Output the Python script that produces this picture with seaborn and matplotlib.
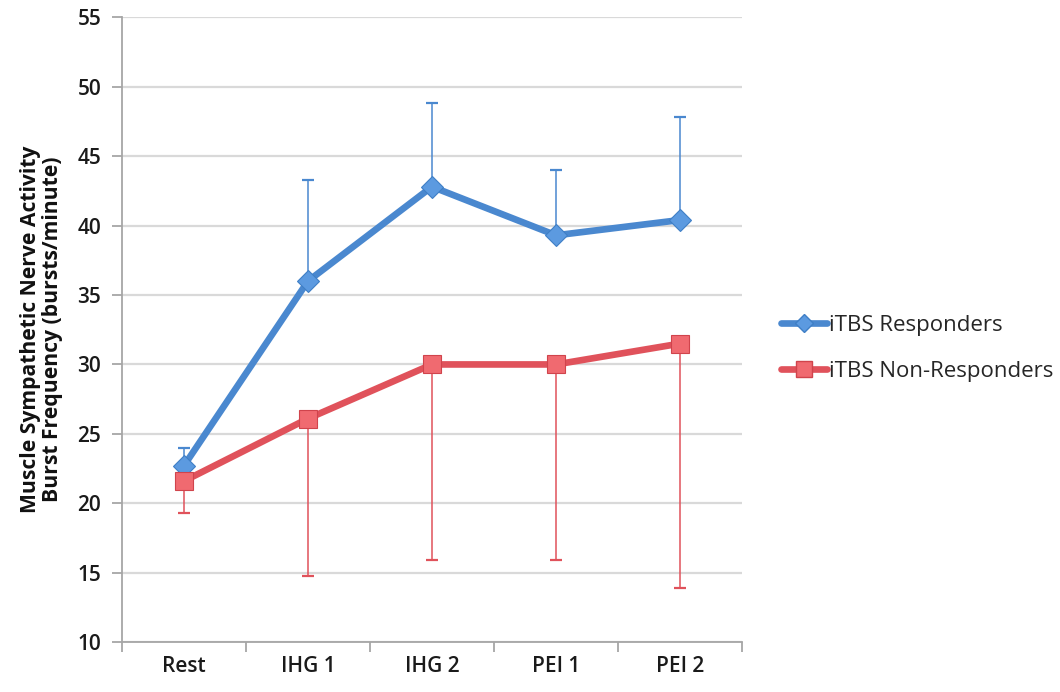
import numpy as np
import pandas as pd
import matplotlib
matplotlib.use("Agg")
import matplotlib.pyplot as plt
import seaborn as sns

# Conditions along the x axis
conditions = ["Rest", "IHG 1", "IHG 2", "PEI 1", "PEI 2"]

# Mean burst frequency (bursts/minute) per group
responders = [22.7, 36.0, 42.8, 39.3, 40.4]
non_responders = [21.6, 26.1, 30.0, 30.0, 31.5]

# Error bar lengths (upward for responders, downward for non-responders)
responders_err = [1.3, 7.3, 6.0, 4.7, 7.4]
non_responders_err = [2.3, 11.3, 14.1, 14.1, 17.6]

group_names = ["iTBS Responders", "iTBS Non-Responders"]
blue = "#4a88cf"
red = "#e0525b"

df = pd.DataFrame({
    "condition": conditions * 2,
    "x": list(range(len(conditions))) * 2,
    "value": responders + non_responders,
    "group": [group_names[0]] * len(conditions) + [group_names[1]] * len(conditions),
})

sns.set_style("white")
plt.rcParams["font.family"] = ["Open Sans", "DejaVu Sans"]

fig = plt.figure(figsize=(10.6, 6.92), dpi=100)
ax = fig.add_axes([0.115, 0.072, 0.585, 0.903])

x = np.arange(len(conditions))
ax.errorbar(x, responders, yerr=[np.zeros(len(x)), responders_err], fmt="none",
            ecolor=blue, elinewidth=1.1, capsize=4.5, capthick=1.6, zorder=2)
ax.errorbar(x, non_responders, yerr=[non_responders_err, np.zeros(len(x))], fmt="none",
            ecolor=red, elinewidth=1.1, capsize=4.5, capthick=1.6, zorder=2)

sns.lineplot(data=df, x="x", y="value", hue="group", style="group",
             palette={group_names[0]: blue, group_names[1]: red},
             markers={group_names[0]: "D", group_names[1]: "s"},
             dashes=False, linewidth=4.8, markersize=11, markeredgewidth=0.8,
             ax=ax, zorder=3, legend=False)
for line, mfc, mec, ms in zip(ax.get_lines()[-2:], ["#5c9ae0", "#f06a70"],
                              ["#3f7fc6", "#d0444c"], [11, 12.5]):
    line.set_markerfacecolor(mfc)
    line.set_markeredgecolor(mec)
    line.set_markersize(ms)

ax.set_xlim(-0.5, len(conditions) - 0.5)
ax.set_ylim(10, 55)
ax.set_yticks(np.arange(10, 56, 5))
ax.set_xticks(x)
ax.set_xticklabels(conditions)
ax.set_xticks(np.arange(-0.5, len(conditions), 1), minor=True)
ax.tick_params(axis="x", which="major", length=0, pad=10, labelsize=15)
ax.tick_params(axis="x", which="minor", length=7, width=1.3, color="#a6a6a6", direction="out")
ax.tick_params(axis="y", length=7, width=1.3, color="#a6a6a6", direction="out", pad=8, labelsize=15)
ax.tick_params(bottom=True, left=True, which="both")
for lab in ax.get_xticklabels() + ax.get_yticklabels():
    lab.set_fontweight("semibold")
    lab.set_color("#1a1a1a")

ax.grid(axis="y", color="#d9d9d9", linewidth=1.6, zorder=0)
ax.set_axisbelow(True)
for side in ["top", "right"]:
    ax.spines[side].set_visible(False)
for side in ["left", "bottom"]:
    ax.spines[side].set_color("#a6a6a6")
    ax.spines[side].set_linewidth(1.3)

ax.set_xlabel("")
ax.set_ylabel("Muscle Sympathetic Nerve Activity\nBurst Frequency (bursts/minute)",
              fontsize=15.2, fontweight="bold", color="#111111", labelpad=10, linespacing=1.1)

handles = [
    plt.Line2D([], [], color=blue, lw=4.8, marker="D", markersize=9,
               markerfacecolor="#5c9ae0", markeredgecolor="#3f7fc6"),
    plt.Line2D([], [], color=red, lw=4.8, marker="s", markersize=11,
               markerfacecolor="#f06a70", markeredgecolor="#d0444c"),
]
ax.legend(handles, group_names, loc="center left", bbox_to_anchor=(1.03, 0.47),
          frameon=False, fontsize=16, handlelength=2.1, handletextpad=0.1,
          labelspacing=1.1)

fig.savefig("out.png", dpi=100)
